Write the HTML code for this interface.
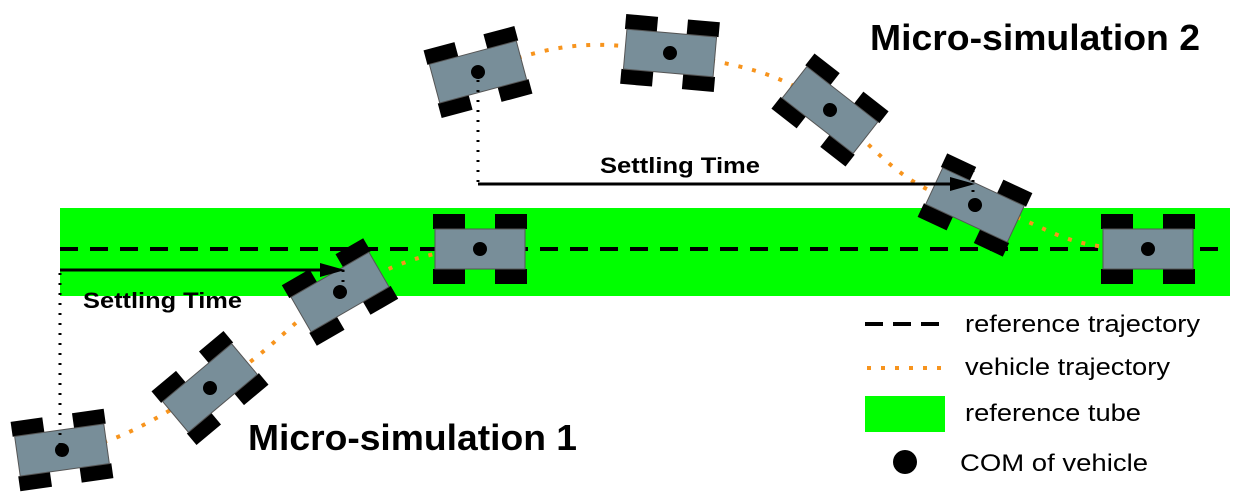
<!DOCTYPE html>
<html><head><meta charset="utf-8"><style>body{margin:0;background:#fff}svg{display:block}</style></head>
<body>
<svg width="1240" height="497" viewBox="0 0 1240 497" xmlns="http://www.w3.org/2000/svg" font-family="Liberation Sans, sans-serif">
<defs>
<g id="car">
<rect x="-47" y="-35" width="32" height="15" fill="#000"/>
<rect x="15" y="-35" width="32" height="15" fill="#000"/>
<rect x="-47" y="20" width="32" height="15" fill="#000"/>
<rect x="15" y="20" width="32" height="15" fill="#000"/>
<rect x="-45" y="-20" width="90" height="40" fill="#788e99" stroke="#555" stroke-width="1"/>
<circle cx="0" cy="0" r="7" fill="#000"/>
</g>
</defs>
<rect x="60" y="208" width="1170" height="88" fill="#00ff00"/>
<line x1="60" y1="249" x2="1230" y2="249" stroke="#000" stroke-width="4" stroke-dasharray="18 12"/>
<path d="M62 450 C120 445 150 420 210 388 S300 310 340 292 S410 252 480 248" fill="none" stroke="#f7941d" stroke-width="4" stroke-dasharray="4 10"/>
<path d="M478 72 C560 40 600 40 670 53 S780 70 830 110 S900 190 975 205 S1050 250 1148 249" fill="none" stroke="#f7941d" stroke-width="4" stroke-dasharray="4 10"/>
<use href="#car" transform="translate(62,450) rotate(-8)"/>
<use href="#car" transform="translate(210,388) rotate(-40)"/>
<use href="#car" transform="translate(340,292) rotate(-30)"/>
<use href="#car" transform="translate(480,249)"/>
<use href="#car" transform="translate(478,72) rotate(-15)"/>
<use href="#car" transform="translate(670,53) rotate(5)"/>
<use href="#car" transform="translate(830,110) rotate(38)"/>
<use href="#car" transform="translate(975,205) rotate(25)"/>
<use href="#car" transform="translate(1148,249)"/>
<line x1="60" y1="445" x2="60" y2="272" stroke="#000" stroke-width="3" stroke-dasharray="2 8"/>
<line x1="60" y1="270" x2="330" y2="270" stroke="#000" stroke-width="3"/>
<polygon points="345,270 320,263 320,277" fill="#000"/>
<line x1="343" y1="260" x2="343" y2="292" stroke="#000" stroke-width="3" stroke-dasharray="2 8"/>
<line x1="478" y1="80" x2="478" y2="183" stroke="#000" stroke-width="3" stroke-dasharray="2 8"/>
<line x1="478" y1="184" x2="960" y2="184" stroke="#000" stroke-width="3"/>
<polygon points="975,184 950,177 950,191" fill="#000"/>
<line x1="973" y1="170" x2="973" y2="200" stroke="#000" stroke-width="3" stroke-dasharray="2 8"/>
<text x="83" y="308" font-size="22" font-weight="bold" textLength="159" lengthAdjust="spacingAndGlyphs">Settling Time</text>
<text x="600" y="173" font-size="22" font-weight="bold" textLength="160" lengthAdjust="spacingAndGlyphs">Settling Time</text>
<text x="248" y="450" font-size="36" font-weight="bold" textLength="329" lengthAdjust="spacingAndGlyphs">Micro-simulation 1</text>
<text x="870" y="50" font-size="36" font-weight="bold" textLength="330" lengthAdjust="spacingAndGlyphs">Micro-simulation 2</text>
<line x1="865" y1="324" x2="945" y2="324" stroke="#000" stroke-width="4" stroke-dasharray="18 10"/>
<line x1="867" y1="368" x2="945" y2="368" stroke="#f7941d" stroke-width="4" stroke-dasharray="4 10"/>
<rect x="865" y="396" width="80" height="36" fill="#00ff00"/>
<circle cx="905" cy="462" r="12" fill="#000"/>
<g font-size="24">
<text x="965" y="332" textLength="235" lengthAdjust="spacingAndGlyphs">reference trajectory</text>
<text x="965" y="375" textLength="205" lengthAdjust="spacingAndGlyphs">vehicle trajectory</text>
<text x="965" y="421" textLength="176" lengthAdjust="spacingAndGlyphs">reference tube</text>
<text x="960" y="471" textLength="188" lengthAdjust="spacingAndGlyphs">COM of vehicle</text>
</g>
</svg>
</body></html>
